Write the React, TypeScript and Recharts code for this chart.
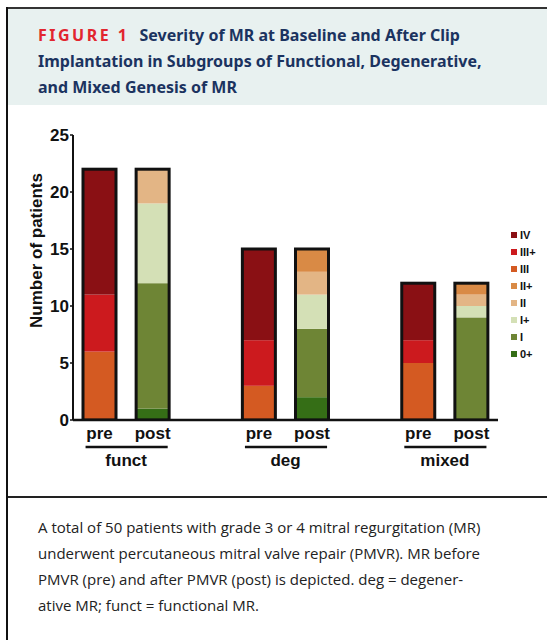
import React from "react"
import { Bar, BarChart, XAxis, YAxis } from "recharts"

// bar slots: pre/post per genesis, blank slots keep the gap between groups
const slots = ["pre", "post", "", "pre", "post", "", "pre", "post"]
const groups = ["funct", "", "", "deg", "", "", "mixed", ""]

// grades, bottom of stack first
const grades = ["0+", "I", "I+", "II", "II+", "III", "III+", "IV"]
const gradeColors = ["#356e16", "#6e8535", "#d4e0b6", "#e3b585", "#d98a45", "#d45a22", "#cc1a1e", "#8a1014"]

// patients per grade in each slot (same order as slots)
const g0p = [0, 1, 0, 0, 2, 0, 0, 0]
const gI = [0, 11, 0, 0, 6, 0, 0, 9]
const gIp = [0, 7, 0, 0, 3, 0, 0, 1]
const gII = [0, 3, 0, 0, 2, 0, 0, 1]
const gIIp = [0, 0, 0, 0, 2, 0, 0, 1]
const gIII = [6, 0, 0, 3, 0, 0, 5, 0]
const gIIIp = [5, 0, 0, 4, 0, 0, 2, 0]
const gIV = [11, 0, 0, 8, 0, 0, 5, 0]

const yTicks = [0, 5, 10, 15, 20, 25]

const values = [g0p, gI, gIp, gII, gIIp, gIII, gIIIp, gIV]
const data = slots.map((s, i) => {
  const row: Record<string, any> = { name: s, group: groups[i], slot: i }
  grades.forEach((g, j) => {
    row[g] = s === "" ? undefined : values[j][i]
  })
  return row
})

const CHART_W = 547
const CHART_H = 370
const Y_W = 73
const M_RIGHT = 49
const BAND = (CHART_W - Y_W - M_RIGHT) / slots.length
const FONT = "'Liberation Sans', Arial, sans-serif"

const topGrade = (row: Record<string, any>) => {
  let top = ""
  grades.forEach((g) => {
    if (row[g]) top = g
  })
  return top
}

const makeShape = (key: string, color: string) => (props: any) => {
  const { x, y, width, height, payload } = props
  const v = payload ? payload[key] : 0
  if (!v || !height) return <g />
  const isTop = topGrade(payload) === key
  let outline = null
  if (isTop) {
    const total = grades.reduce((s, g) => s + (payload[g] || 0), 0)
    const full = (height * total) / v
    outline = (
      <rect x={x} y={y} width={width} height={full} fill="none" stroke="#111" strokeWidth={3} />
    )
  }
  return (
    <g>
      <rect x={x} y={y} width={width} height={height} fill={color} />
      {outline}
    </g>
  )
}

const SlotTick = (props: any) => {
  const { x, y, payload } = props
  const row = data[payload.index]
  if (!row || row.name === "") return <g />
  return (
    <g>
      <text x={x} y={y + 11} textAnchor="middle" fontFamily={FONT} fontWeight="bold" fontSize={17} fill="#111">
        {row.name}
      </text>
      {row.group ? (
        <g>
          <line x1={x - 14} x2={x + BAND + 15} y1={y + 19} y2={y + 19} stroke="#111" strokeWidth={2.5} />
          <text
            x={x + BAND / 2}
            y={y + 38}
            textAnchor="middle"
            fontFamily={FONT}
            fontWeight="bold"
            fontSize={17}
            fill="#111"
          >
            {row.group}
          </text>
        </g>
      ) : null}
    </g>
  )
}

const YLabel = (props: any) => {
  const vb = props.viewBox
  const cx = 42
  const cy = vb.y + vb.height / 2 - 27
  return (
    <text
      x={cx}
      y={cy}
      transform={`rotate(-90, ${cx}, ${cy})`}
      textAnchor="middle"
      fontFamily={FONT}
      fontWeight="bold"
      fontSize={17}
      fill="#111"
    >
      Number of patients
    </text>
  )
}

const App = () => {
  return (
    <div
      style={{
        position: "absolute",
        left: 0,
        top: 0,
        width: 547,
        height: 640,
        background: "#fff",
        overflow: "hidden",
      }}
    >
      <div style={{ position: "absolute", left: 6, top: 7, width: 541, height: 2, background: "#333" }} />
      <div style={{ position: "absolute", left: 6, top: 7, width: 2, height: 633, background: "#111" }} />
      <div style={{ position: "absolute", left: 8, top: 9, width: 539, height: 96, background: "#e8f1f0" }} />
      <div style={{ position: "absolute", left: 8, top: 496, width: 539, height: 1.5, background: "#222" }} />

      <div
        style={{
          position: "absolute",
          left: 38,
          top: 22,
          fontFamily: "'Noto Sans', sans-serif",
          fontWeight: "bold",
          fontSize: 16,
          lineHeight: "26px",
          color: "#1b3360",
          whiteSpace: "nowrap",
        }}
      >
        <span style={{ color: "#e2262f", letterSpacing: 2.5 }}>FIGURE 1</span>
        <span style={{ marginLeft: 10 }}>Severity of MR at Baseline and After Clip</span>
        <br />
        Implantation in Subgroups of Functional, Degenerative,
        <br />
        and Mixed Genesis of MR
      </div>

      <div style={{ position: "absolute", left: 0, top: 110 }}>
        <BarChart
          width={CHART_W}
          height={CHART_H}
          data={data}
          margin={{ top: 25, right: M_RIGHT, left: 0, bottom: 0 }}
          barSize={33}
        >
          <XAxis
            dataKey="slot"
            type="category"
            height={60}
            axisLine={{ stroke: "#111", strokeWidth: 2.5 }}
            tickLine={false}
            interval={0}
            tick={<SlotTick />}
          />
          <YAxis
            width={Y_W}
            domain={[0, 25]}
            ticks={yTicks}
            allowDataOverflow
            axisLine={{ stroke: "#111", strokeWidth: 2 }}
            tickLine={{ stroke: "#111", strokeWidth: 1.5 }}
            tickSize={3}
            tickMargin={1}
            tick={{ fontFamily: FONT, fontWeight: "bold", fontSize: 17, fill: "#111" }}
            label={{ content: <YLabel /> }}
          />
          {grades.map((g, i) => (
            <Bar
              key={g}
              dataKey={g}
              stackId="mr"
              fill={gradeColors[i]}
              isAnimationActive={false}
              shape={makeShape(g, gradeColors[i])}
            />
          ))}
        </BarChart>
      </div>

      <div style={{ position: "absolute", left: 511, top: 226 }}>
        {grades
          .slice()
          .reverse()
          .map((g) => (
            <div key={g} style={{ display: "flex", alignItems: "center", height: 17 }}>
              <span
                style={{
                  display: "inline-block",
                  width: 6,
                  height: 6,
                  background: gradeColors[grades.indexOf(g)],
                  marginRight: 3,
                }}
              />
              <span style={{ fontFamily: FONT, fontWeight: "bold", fontSize: 11, color: "#111" }}>{g}</span>
            </div>
          ))}
      </div>

      <div
        style={{
          position: "absolute",
          left: 38,
          top: 514,
          fontFamily: "'Open Sans', sans-serif",
          fontSize: 15,
          lineHeight: "26px",
          color: "#222",
          whiteSpace: "nowrap",
        }}
      >
        A total of 50 patients with grade 3 or 4 mitral regurgitation (MR)
        <br />
        underwent percutaneous mitral valve repair (PMVR). MR before
        <br />
        PMVR (pre) and after PMVR (post) is depicted. deg = degener-
        <br />
        ative MR; funct = functional MR.
      </div>
    </div>
  )
}

export default App
